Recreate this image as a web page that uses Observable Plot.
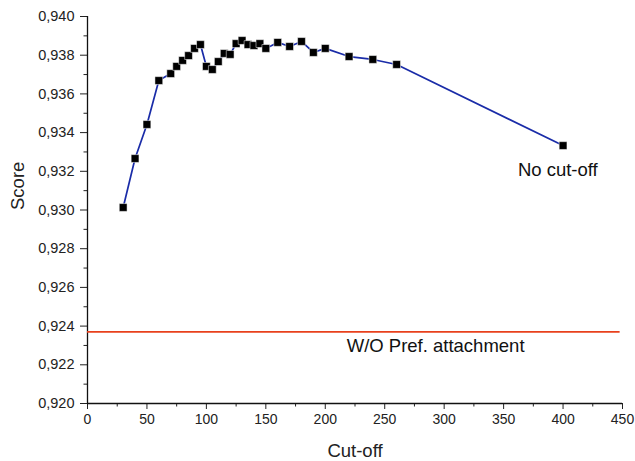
<!DOCTYPE html>
<html><head><meta charset="utf-8">
<script src="https://cdn.jsdelivr.net/npm/d3@7"></script>
<script src="https://cdn.jsdelivr.net/npm/@observablehq/plot@0.6"></script>
<style>body{margin:0;background:#fff;} svg{font-family:"Liberation Sans",Arial,sans-serif;}</style>
</head><body><div id="chart"></div>
<script>
const cutoff = [30,40,50,60,70,75,80,85,90,95,100,105,110,115,120,125,130,135,140,145,150,160,170,180,190,200,220,240,260,400];
const score = [0.93013,0.93266,0.93442,0.93669,0.93705,0.93742,0.93773,0.93798,0.93835,0.93855,0.93742,0.93726,0.93767,0.93809,0.93804,0.93860,0.93876,0.93855,0.93850,0.93860,0.93835,0.93866,0.93845,0.93871,0.93814,0.93835,0.93793,0.93778,0.93752,0.93333];
const baseline = 0.9237;
const baselineSpan = [0, 448];
const xTicks = [0,50,100,150,200,250,300,350,400,450];
const xMinor = [25,75,125,175,225,275,325,375,425];
const yTicks = [0.920,0.922,0.924,0.926,0.928,0.930,0.932,0.934,0.936,0.938,0.940];
const yMinor = [0.921,0.923,0.925,0.927,0.929,0.931,0.933,0.935,0.937,0.939];
const labels = [
  {x: 362, y: 0.93204, text: "No cut-off"},
  {x: 218, y: 0.92295, text: "W/O Pref. attachment"}
];
const data = cutoff.map((c,i)=>({c, s: score[i]}));
const fmt = d => d3.format(".3f")(d).replace(".", ",");
const chart = Plot.plot({
  width: 635, height: 461,
  marginLeft: 87, marginRight: 13, marginTop: 16, marginBottom: 58,
  style: {fontFamily: "Liberation Sans, Arial, sans-serif", fontSize: "14.5px", color: "#222", background: "#fff"},
  x: {domain: [0, 450]},
  y: {domain: [0.920, 0.940]},
  marks: [
    Plot.axisX({ticks: xTicks, tickSize: 6, tickPadding: 5, fontSize: 14, label: null}),
    Plot.axisX({ticks: xMinor, tickSize: 3.5, text: null, label: null}),
    Plot.axisY({ticks: yTicks, tickSize: 7, tickPadding: 6, tickFormat: fmt, fontSize: 14.5, label: null}),
    Plot.axisY({ticks: yMinor, tickSize: 3.5, text: null, label: null}),
    Plot.text(["Cut-off"], {frameAnchor: "bottom", lineAnchor: "middle", dy: 48, fontSize: 18.5, fill: "#222"}),
    Plot.text(["Score"], {frameAnchor: "left", dx: -69, rotate: -90, fontSize: 18.5, fill: "#222"}),
    Plot.ruleX([0], {stroke: "#111", strokeWidth: 1.3}),
    Plot.ruleY([0.920], {stroke: "#111", strokeWidth: 1.3}),
    Plot.ruleY([baseline], {x1: baselineSpan[0], x2: baselineSpan[1], stroke: "#e8401c", strokeWidth: 1.7}),
    Plot.line(data, {x: "c", y: "s", stroke: "#1a2ca8", strokeWidth: 1.7}),
    Plot.dot(data, {x: "c", y: "s", symbol: "square", r: 4.4, fill: "#000", stroke: "#fff", strokeWidth: 0.5}),
    Plot.text(labels, {x: "x", y: "y", text: "text", textAnchor: "start", fontSize: 18.5, fill: "#111"})
  ]
});
document.getElementById("chart").appendChild(chart);
</script></body></html>
